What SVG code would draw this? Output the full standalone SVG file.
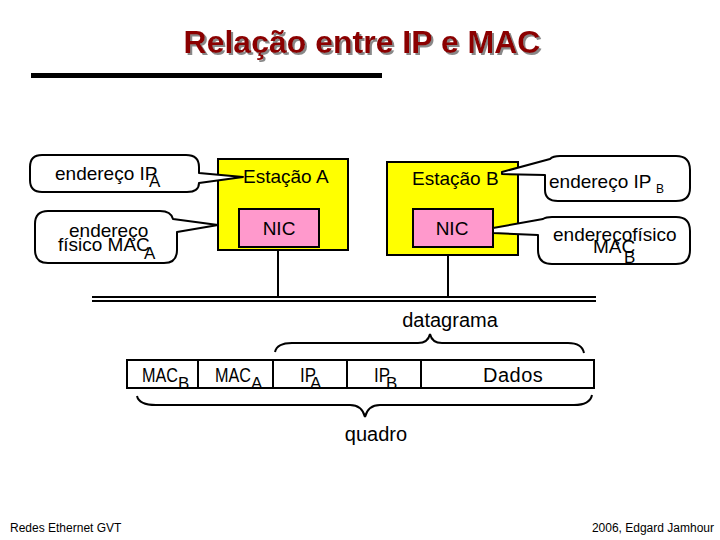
<svg xmlns="http://www.w3.org/2000/svg" width="720" height="540" viewBox="0 0 720 540">
<defs>
<filter id="sh" x="-5%" y="-20%" width="110%" height="150%">
<feDropShadow dx="2" dy="2" stdDeviation="0.6" flood-color="#888" flood-opacity="1"/>
</filter>
</defs>
<style>
text{font-family:"Liberation Sans",Arial,sans-serif;fill:#000}
.t{font-size:19px}
.f{font-size:20px}
.sub{font-size:17px}
.ft{font-size:12px}
.call{fill:#fff;stroke:#000;stroke-width:2;stroke-linejoin:round}
.st{fill:#ffff00;stroke:#000;stroke-width:2}
.nic{fill:#ff99cc;stroke:#000;stroke-width:2}
.ln{stroke:#000;stroke-width:2;fill:none}
.cell{fill:#fff;stroke:#000;stroke-width:2}
</style>
<rect width="720" height="540" fill="#fff"/>
<g id="title">
<text x="362" y="53" text-anchor="middle" font-size="32" font-weight="bold" filter="url(#sh)" style="fill:#8b0000">Relação entre IP e MAC</text>
<rect x="31" y="73" width="351" height="5" fill="#000"/>
</g>
<g id="connectors">
<line class="ln" x1="278" y1="250" x2="278" y2="296"/>
<line class="ln" x1="448" y1="255" x2="448" y2="296"/>
<line x1="92" y1="297" x2="596" y2="297" stroke="#000" stroke-width="2"/>
<line x1="92" y1="301" x2="596" y2="301" stroke="#000" stroke-width="2"/>
</g>
<g id="estacaoA">
<rect class="st" x="218" y="159" width="130" height="91"/>
<text class="t" x="243" y="183">Estação A</text>
</g>
<g id="nicA">
<rect class="nic" x="239" y="209" width="80" height="38"/>
<text class="t" x="279" y="235" text-anchor="middle">NIC</text>
</g>
<g id="estacaoB">
<rect class="st" x="387" y="162" width="131" height="93"/>
<text class="t" x="412" y="185">Estação B</text>
</g>
<g id="nicB">
<rect class="nic" x="413" y="209" width="80" height="38"/>
<text class="t" x="452" y="235" text-anchor="middle">NIC</text>
</g>
<g id="calloutIPA">
<path class="call" d="M 42,155 H 186 Q 199,155 199,167 V 173 L 243,177 L 199,183 Q 199,192 187,192 H 42 Q 30,192 30,180 V 167 Q 30,155 42,155 Z"/>
<text class="t" x="55" y="180">endereço IP</text>
<text class="sub" x="149" y="187">A</text>
</g>
<g id="calloutMACA">
<path class="call" d="M 48,211 H 160 Q 171,211 173,219 L 218,225 L 177,232 V 250 Q 177,263 164,263 H 48 Q 35,263 35,250 V 224 Q 35,211 48,211 Z"/>
<text class="t" x="69" y="237">endereço</text>
<text class="t" x="58" y="251">físico MAC</text>
<text class="sub" x="144" y="259">A</text>
</g>
<g id="calloutIPB">
<path class="call" d="M 560,156 H 676 Q 690,156 690,170 V 188 Q 690,201 676,201 H 558 Q 545,201 545,190 V 175 L 502,174 L 502,172 L 550,159 Q 553,156 560,156 Z"/>
<text class="t" x="549" y="188">endereço IP</text>
<text x="656" y="193" font-size="12">B</text>
</g>
<g id="calloutMACB">
<path class="call" d="M 552,217 H 676 Q 690,217 690,231 V 250 Q 690,264 676,264 H 552 Q 538,264 538,250 V 235 L 493,233 L 493,228 L 543,219 Q 546,217 552,217 Z"/>
<text class="t" x="553" y="241">endereçofísico</text>
<text class="t" x="593" y="253">MAC</text>
<text class="sub" x="624" y="263">B</text>
</g>
<g id="datagrama">
<text class="f" x="450" y="327" text-anchor="middle">datagrama</text>
<path class="ln" d="M 275,352 Q 277,343 292,343 H 418 Q 428,343 430,334 Q 432,343 442,343 H 568 Q 582,343 584,353"/>
</g>
<g id="quadro">
<path class="cell" d="M 127,360 H 594 V 388 H 127 Z"/>
<line class="ln" x1="198" y1="360" x2="198" y2="388"/>
<line class="ln" x1="273" y1="360" x2="273" y2="388"/>
<line class="ln" x1="347" y1="360" x2="347" y2="388"/>
<line class="ln" x1="421" y1="360" x2="421" y2="388"/>
<text class="f" x="142" y="382" textLength="36" lengthAdjust="spacingAndGlyphs">MAC</text>
<text class="sub" x="178" y="389">B</text>
<text class="f" x="215" y="382" textLength="36" lengthAdjust="spacingAndGlyphs">MAC</text>
<text class="sub" x="251" y="389">A</text>
<text class="f" x="300" y="382" textLength="16" lengthAdjust="spacingAndGlyphs">IP</text>
<text class="sub" x="310" y="389">A</text>
<text class="f" x="374" y="382" textLength="16" lengthAdjust="spacingAndGlyphs">IP</text>
<text class="sub" x="386" y="389">B</text>
<text class="f" x="483" y="382" letter-spacing="0.5">Dados</text>
<path class="ln" d="M 137,396 Q 139,405 156,405 H 350 Q 362,405 365,417 Q 368,405 380,405 H 574 Q 590,405 592,395"/>
<text class="f" x="376" y="441" text-anchor="middle">quadro</text>
</g>
<g id="footer">
<text class="ft" x="10" y="532">Redes Ethernet GVT</text>
<text class="ft" x="714" y="532" text-anchor="end">2006, Edgard Jamhour</text>
</g>
</svg>
